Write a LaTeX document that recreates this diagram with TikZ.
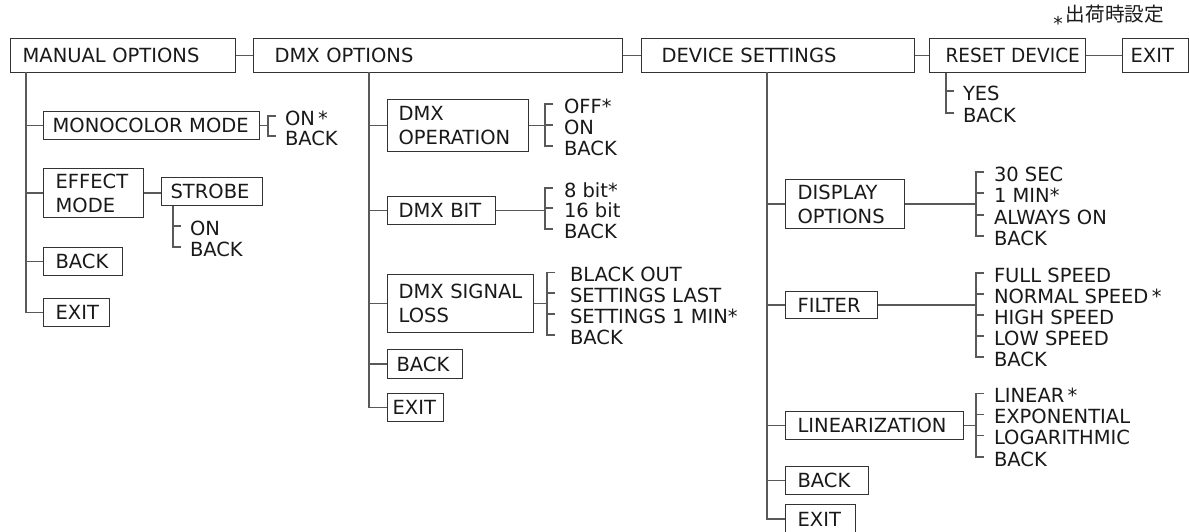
\documentclass[tikz,border=0pt]{standalone}
\usepackage{fontspec}
\setmainfont{DejaVu Sans}
\newfontfamily\cjk{Noto Sans CJK JP}
\newcommand\mybox[7]{%
  \pgfmathsetmacro\bh{#5-#3}%
  \pgfmathsetmacro\bp{#6-#2}%
  \pgfmathsetmacro\btw{#4-#2-2*(#6-#2)}%
  \node[box, minimum height=\bh pt, inner xsep=\bp pt, text width=\btw pt] (#1) at (#2,#3) {#7};}
\begin{document}
\hyphenpenalty=10000
\exhyphenpenalty=10000
\hbadness=10000
\hfuzz=200pt
\begin{tikzpicture}[x=1pt,y=-1pt,
  ln/.style={line width=1.4pt, draw=black!65},
  box/.style={draw=black!80, line width=1.2pt, anchor=north west, inner ysep=0pt, align=left, text=black!90, font=\fontsize{19.5}{24}\selectfont},
  opt/.style={anchor=west, inner xsep=#1, inner ysep=0pt, outer sep=0pt, text height=18.4pt, text depth=0pt, text=black!90, font=\fontsize{19.5}{21}\selectfont}]
\useasboundingbox (0,0) rectangle (1189,532);

% note
\node[anchor=east, inner sep=0pt, text=black!90] (note) at (1164,18)
  {\raisebox{-9pt}{\fontsize{19}{19}\selectfont *}\hspace{3pt}{\cjk\fontsize{19.6}{20}\selectfont 出荷時設定}};

% top row
\mybox{mo}{10}{38}{235}{72}{22}{MANUAL~OPTIONS}
\mybox{dmx}{253}{38}{622}{72}{274}{DMX~OPTIONS}
\mybox{ds}{641}{38}{914}{72}{661}{DEVICE~SETTINGS}
\mybox{rd}{929}{38}{1085}{72}{945}{\scalebox{0.95}[1]{RESET DEVICE}}
\mybox{ex}{1122}{38}{1188}{72}{1130}{EXIT}
\draw[ln] (mo.east) -- (dmx.west);
\draw[ln] (dmx.east) -- (ds.west);
\draw[ln] (ds.east) -- (rd.west);
\draw[ln] (rd.east) -- (ex.west);

% manual options
\mybox{mcm}{43}{111}{259}{139}{52}{MONOCOLOR~MODE}
\mybox{em}{43}{168}{143}{217}{55}{EFFECT\\MODE}
\mybox{st}{161}{177}{262}{205}{170}{STROBE}
\mybox{mb}{43}{247}{122}{275}{55}{BACK}
\mybox{mx}{43}{298}{109}{326}{55}{EXIT}
\coordinate (mosp) at (26,72);
\draw[ln] (mosp) |- (mx.west);
\foreach \n in {mcm,em,mb} \draw[ln] (mosp |- \n.west) -- (\n.west);
\draw[ln] (em.east) -- (em.east -| st.west);

\node[opt=17] (mc1) at (268,116) {ON\,*};
\node[opt=17] (mc2) at (268,136) {BACK};
\draw[ln] (mcm.east) -- (mcm.east -| mc1.west);
\draw[ln] ([xshift=8pt]mc1.west) -- (mc1.west) -- (mc2.west) -- ([xshift=8pt]mc2.west);

\node[opt=17] (s1) at (173,226) {ON};
\node[opt=17] (s2) at (173,247) {BACK};
\draw[ln] (st.south -| s1.west) -- (s2.west) -- ([xshift=8pt]s2.west);
\draw[ln] (s1.west) -- ([xshift=8pt]s1.west);

% dmx options
\mybox{dop}{387}{99}{528}{151}{398}{DMX\\OPERATION}
\mybox{dbit}{387}{196}{495}{224}{398}{DMX~BIT}
\mybox{dsl}{387}{274}{533}{332}{398}{DMX~SIGNAL\\LOSS}
\mybox{dmb}{387}{349}{462}{378}{396}{BACK}
\mybox{dmxx}{387}{393}{443}{421}{392}{EXIT}
\coordinate (dsp) at (369,72);
\draw[ln] (dsp) |- (dmxx.west);
\foreach \n in {dop,dbit,dsl,dmb} \draw[ln] (dsp |- \n.west) -- (\n.west);

\node[opt=19] (o1) at (545,104) {OFF*};
\node[opt=19] (o2) at (545,125) {ON};
\node[opt=19] (o3) at (545,146) {BACK};
\draw[ln] (dop.east) -- (dop.east -| o1.west);
\draw[ln] ([xshift=8pt]o1.west) -- (o1.west) -- (o3.west) -- ([xshift=8pt]o3.west);
\draw[ln] (o2.west) -- ([xshift=8pt]o2.west);

\node[opt=19] (b1) at (545,188) {8 bit*};
\node[opt=19] (b2) at (545,208) {16 bit};
\node[opt=19] (b3) at (545,229) {BACK};
\draw[ln] (dbit.east) -- (dbit.east -| b1.west);
\draw[ln] ([xshift=8pt]b1.west) -- (b1.west) -- (b3.west) -- ([xshift=8pt]b3.west);
\draw[ln] (b2.west) -- ([xshift=8pt]b2.west);

\node[opt=23] (l1) at (547,272.5) {BLACK OUT};
\node[opt=23] (l2) at (547,293) {SETTINGS LAST};
\node[opt=23] (l3) at (547,314) {SETTINGS 1 MIN*};
\node[opt=23] (l4) at (547,335) {BACK};
\draw[ln] (dsl.east) -- (dsl.east -| l1.west);
\draw[ln] ([xshift=8pt]l1.west) -- (l1.west) -- (l4.west) -- ([xshift=8pt]l4.west);
\foreach \n in {l2,l3} \draw[ln] (\n.west) -- ([xshift=8pt]\n.west);

% reset device
\node[opt=17] (r1) at (946,91) {YES};
\node[opt=17] (r2) at (946,113) {BACK};
\draw[ln] (rd.south -| r1.west) -- (r2.west) -- ([xshift=8pt]r2.west);
\draw[ln] (r1.west) -- ([xshift=8pt]r1.west);

% device settings
\mybox{disp}{785}{179}{904}{228}{797}{DISPLAY\\OPTIONS}
\mybox{fil}{785}{291}{877}{318}{797}{FILTER}
\mybox{lin}{785}{411}{963}{439}{797}{LINEARIZATION}
\mybox{dvb}{785}{466}{868}{494}{797}{BACK}
\mybox{dvx}{785}{504}{855}{533}{797}{EXIT}
\coordinate (dvsp) at (767,72);
\draw[ln] (dvsp) |- (dvx.west);
\foreach \n in {disp,fil,lin,dvb} \draw[ln] (dvsp |- \n.west) -- (\n.west);

\node[opt=18] (p1) at (976,172) {30 SEC};
\node[opt=18] (p2) at (976,193) {1 MIN*};
\node[opt=18] (p3) at (976,215) {ALWAYS ON};
\node[opt=18] (p4) at (976,236) {BACK};
\draw[ln] (disp.east) -- (disp.east -| p1.west);
\draw[ln] ([xshift=8pt]p1.west) -- (p1.west) -- (p4.west) -- ([xshift=8pt]p4.west);
\foreach \n in {p2,p3} \draw[ln] (\n.west) -- ([xshift=8pt]\n.west);

\node[opt=18] (f1) at (976,273) {FULL SPEED};
\node[opt=18] (f2) at (976,294) {NORMAL SPEED\,*};
\node[opt=18] (f3) at (976,315) {HIGH SPEED};
\node[opt=18] (f4) at (976,336) {LOW SPEED};
\node[opt=18] (f5) at (976,357) {BACK};
\draw[ln] (fil.east) -- (fil.east -| f1.west);
\draw[ln] ([xshift=8pt]f1.west) -- (f1.west) -- (f5.west) -- ([xshift=8pt]f5.west);
\foreach \n in {f2,f3,f4} \draw[ln] (\n.west) -- ([xshift=8pt]\n.west);

\node[opt=18] (n1) at (976,393.5) {LINEAR\,*};
\node[opt=18] (n2) at (976,414.5) {EXPONENTIAL};
\node[opt=18] (n3) at (976,435.5) {LOGARITHMIC};
\node[opt=18] (n4) at (976,457) {BACK};
\draw[ln] (lin.east) -- (lin.east -| n1.west);
\draw[ln] ([xshift=8pt]n1.west) -- (n1.west) -- (n4.west) -- ([xshift=8pt]n4.west);
\foreach \n in {n2,n3} \draw[ln] (\n.west) -- ([xshift=8pt]\n.west);
\end{tikzpicture}
\end{document}
